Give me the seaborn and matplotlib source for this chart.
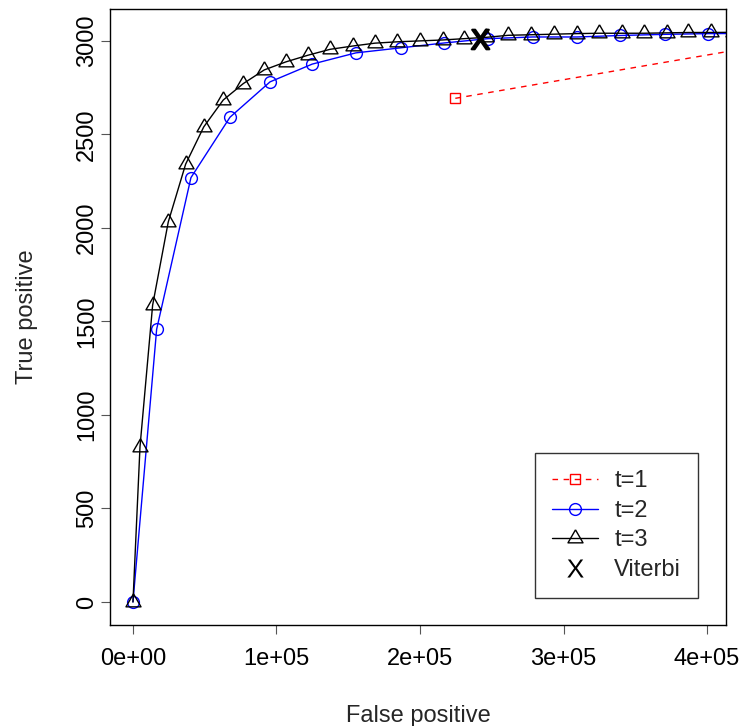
import numpy as np
import pandas as pd
import matplotlib
matplotlib.use("Agg")
import matplotlib.pyplot as plt
import seaborn as sns
from matplotlib.ticker import FixedLocator, FuncFormatter

# t=1 (second point lies beyond the right edge of the plot)
fp_t1 = [224600, 480000]
tp_t1 = [2693, 3030]

# t=2
fp_t2 = [0, 16500, 40400, 67600, 95500, 124900, 155300, 186600, 216900,
         247300, 278500, 309600, 339600, 370400, 400900, 431400]
tp_t2 = [0, 1458, 2269, 2592, 2781, 2876, 2936, 2963, 2989,
         3012, 3021, 3021, 3029, 3035, 3039, 3040]

# t=3
fp_t3 = [0, 4900, 13700, 24600, 36700, 49300, 62900, 76900, 91500, 106600,
         121700, 137300, 153500, 168600, 183800, 199700, 215700, 230700,
         246000, 261500, 277400, 293400, 309400, 324700, 340800, 356300,
         371900, 387000, 402600, 418100]
tp_t3 = [0, 830, 1587, 2032, 2341, 2540, 2684, 2772, 2845, 2888,
         2923, 2955, 2973, 2988, 2995, 3000, 3005, 3012,
         3019, 3030, 3033, 3036, 3039, 3041, 3041, 3041,
         3043, 3045, 3045, 3046]

# Viterbi
viterbi_fp = [241800]
viterbi_tp = [3012]

x_ticks = [0, 100000, 200000, 300000, 400000]
y_ticks = [0, 500, 1000, 1500, 2000, 2500, 3000]

sns.set_style("ticks")
plt.rcParams['font.family'] = ['Liberation Sans', 'DejaVu Sans']
plt.rcParams['mathtext.fontset'] = 'custom'
plt.rcParams['mathtext.rm'] = 'Liberation Sans'
plt.rcParams['mathtext.sf'] = 'Liberation Sans'

FS = 17

fig = plt.figure(figsize=(7.4, 7.26), dpi=100)
ax = fig.add_axes([110 / 740, 1 - 625 / 726, 616 / 740, 615.7 / 726])

# R-style triangle centred on its centroid
tri = [(0, 1.555), (1.347, -0.778), (-1.347, -0.778), (0, 1.555)]

df1 = pd.DataFrame({"fp": fp_t1, "tp": tp_t1})
df2 = pd.DataFrame({"fp": fp_t2, "tp": tp_t2})
df3 = pd.DataFrame({"fp": fp_t3, "tp": tp_t3})
dfv = pd.DataFrame({"fp": viterbi_fp, "tp": viterbi_tp})

sns.lineplot(data=df1, x="fp", y="tp", ax=ax, sort=False, estimator=None,
             color="#ff0000", lw=1.0, linestyle=(0, (4, 4)),
             marker="s", ms=7.7, mfc="none", mec="#ff0000", mew=1.0, label="t=1")
sns.lineplot(data=df2, x="fp", y="tp", ax=ax, sort=False, estimator=None,
             color="#0000ff", lw=1.0,
             marker="o", ms=8.5, mfc="none", mec="#0000ff", mew=1.0, label="t=2")
sns.lineplot(data=df3, x="fp", y="tp", ax=ax, sort=False, estimator=None,
             color="black", lw=1.0,
             marker=tri, ms=12.5, mfc="none", mec="black", mew=1.0, label="t=3")
sns.lineplot(data=dfv, x="fp", y="tp", ax=ax, sort=False, estimator=None,
             color="black", linestyle="",
             marker=r"$\mathrm{X}$", ms=14, mfc="black", mec="black", mew=1.6,
             label="Viterbi")

ax.set_xlim(-16000, 413200)
ax.set_ylim(-123, 3169)

ax.xaxis.set_major_locator(FixedLocator(x_ticks))
ax.xaxis.set_major_formatter(FuncFormatter(lambda v, p: f"{v:.0e}"))
ax.yaxis.set_major_locator(FixedLocator(y_ticks))
ax.tick_params(axis="both", direction="out", length=6.5, width=0.8,
               color="#555555", labelsize=FS, labelcolor="black")
ax.tick_params(axis="x", pad=10)
ax.tick_params(axis="y", pad=2, labelrotation=90)
for lab in ax.get_yticklabels():
    lab.set_va("center")

for sp in ax.spines.values():
    sp.set_color("black")
    sp.set_linewidth(1.0)

ax.set_xlabel("False positive", fontsize=FS)
ax.set_ylabel("True positive", fontsize=FS)
ax.xaxis.set_label_coords(0.5, (625 - 716) / 615.7)
ax.xaxis.label.set_va("center")
ax.yaxis.set_label_coords((27 - 110) / 616, 0.5)
ax.yaxis.label.set_va("center")

leg = ax.legend(loc="lower right", bbox_to_anchor=((698 - 110) / 616, 27 / 615.7),
                borderaxespad=0, fontsize=FS, frameon=True, fancybox=False,
                edgecolor="black", handlelength=1.95, handletextpad=0.7,
                borderpad=0.72, labelspacing=0.32)
leg.get_frame().set_linewidth(1.0)
vh = leg.legend_handles[3]
vh.set_markeredgewidth(0)
vh.set_markersize(13)

fig.savefig("out.png", dpi=100)
